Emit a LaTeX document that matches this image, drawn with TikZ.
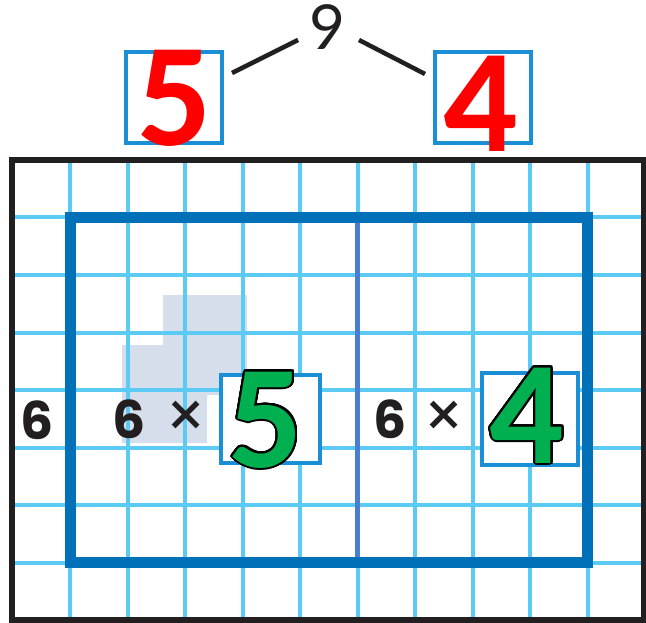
\documentclass[tikz,border=0pt]{standalone}
\usepackage{fontspec}
\setmainfont{Lato}
\newfontfamily\calfont{Carlito}
\newfontfamily\sixfont{Poppins}
\usepackage{contour}
\contourlength{2pt}
\contournumber{32}
\definecolor{gridblue}{HTML}{5BCBF5}
\definecolor{bigblue}{HTML}{0070B8}
\definecolor{divblue}{HTML}{4A7FD0}
\definecolor{boxblue}{HTML}{1B8FD6}
\definecolor{darktext}{HTML}{231F20}
\definecolor{shadegray}{HTML}{D6DDEB}
\definecolor{numgreen}{HTML}{00B050}
\definecolor{numred}{HTML}{FF0000}
\tikzset{
  gridline/.style={line width=4pt, gridblue},
  numbox/.style={draw=boxblue, line width=4pt, fill=white, inner sep=0pt},
  bigred/.style={anchor=base, inner sep=0pt, text=numred, font=\calfont\bfseries\fontsize{147pt}{147pt}\selectfont},
  biggreen/.style={anchor=base, inner sep=0pt, text=numgreen, font=\calfont\bfseries\fontsize{147pt}{147pt}\selectfont},
  sixlabel/.style={anchor=base, inner sep=0pt, text=darktext, font=\sixfont\bfseries\fontsize{52pt}{52pt}\selectfont},
  timeslabel/.style={anchor=base, inner sep=0pt, text=darktext, font=\sixfont\fontsize{64pt}{64pt}\selectfont},
  bondline/.style={line width=4.5pt, darktext}
}
\begin{document}
\begin{tikzpicture}[x=1pt,y=-1pt]
\useasboundingbox (0,0) rectangle (646,623);
% faint shaded staircase
\fill[shadegray] (163,295) -- (247,295) -- (247,395) -- (207,395) -- (207,443) -- (122,443) -- (122,345) -- (163,345) -- cycle;
% grid
\foreach \i in {1,...,10} \draw[gridline] ({12.5+57.5*\i},160) -- ({12.5+57.5*\i},620);
\foreach \j in {1,...,7} \draw[gridline] (12,{160+57.5*\j}) -- (644,{160+57.5*\j});
% outer frame
\draw[line width=6pt, darktext] (11.5,160) rectangle (644,620);
% divider and big rectangle
\draw[line width=5pt, divblue] (357.5,217.5) -- (357.5,562.5);
\draw[line width=11pt, bigblue] (70,217.5) rectangle (587.5,562.5);
% top number bond
\node[anchor=base, inner sep=0pt, text=darktext, font=\fontsize{62pt}{62pt}\selectfont] (nine) at (327,50) {9};
\node[numbox, minimum width=96.5pt, minimum height=91pt] (boxA) at (174,97.5) {};
\node[numbox, minimum width=96pt, minimum height=91pt] (boxB) at (483,97.5) {};
\coordinate (a1) at (232,73);
\coordinate (a2) at (298,40);
\coordinate (b1) at (359,40);
\coordinate (b2) at (425,74);
\draw[bondline] (a1) -- (a2);
\draw[bondline] (b1) -- (b2);
\node[bigred] (redfive) at (175,146) {5};
\node[bigred] (redfour) at (481,152) {4};
% factor boxes
\node[numbox, minimum width=99pt, minimum height=88pt] (boxC) at (270.5,419) {};
\node[numbox, minimum width=96pt, minimum height=92pt] (boxD) at (530,419) {};
\node[biggreen] (greenfive) at (266,467) {\contour{black}{5}};
\node[biggreen] (greenfour) at (527,463) {\contour{black}{4}};
% labels
\node[sixlabel] (sixleft) at (37.5,439) {6};
\node[sixlabel] (sixA) at (129,438) {6};
\node[timeslabel] (timesA) at (186,438) {×};
\node[sixlabel] (sixB) at (390,438) {6};
\node[timeslabel] (timesB) at (444,438) {×};
\end{tikzpicture}
\end{document}
